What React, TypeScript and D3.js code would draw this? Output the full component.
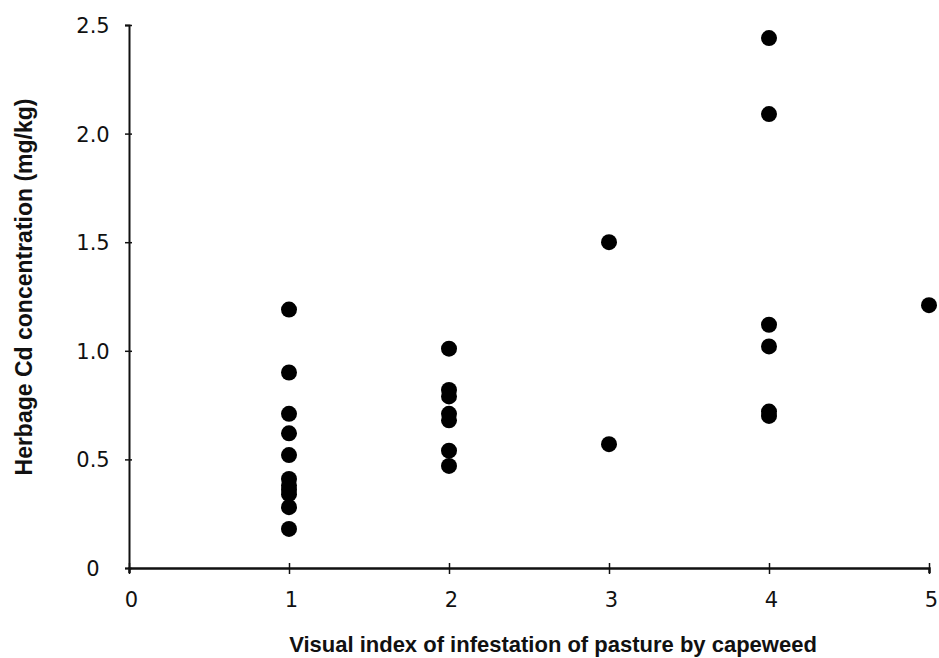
import { useEffect, useRef } from 'react';
import * as d3 from 'd3';

// capeweed infestation index vs herbage Cd
const xIndex = [1, 1, 1, 1, 1, 1, 1, 1, 1, 1, 1, 2, 2, 2, 2, 2, 2, 2, 3, 3, 4, 4, 4, 4, 4, 4, 5];
const cdValues = [
  1.19, 0.9, 0.71, 0.62, 0.52, 0.41, 0.38, 0.36, 0.34, 0.28, 0.18,
  1.01, 0.82, 0.79, 0.71, 0.68, 0.54, 0.47,
  1.5, 0.57,
  2.44, 2.09, 1.12, 1.02, 0.72, 0.7,
  1.21,
];
const xTicks = [0, 1, 2, 3, 4, 5];
const yTicks = [0, 0.5, 1.0, 1.5, 2.0, 2.5];
const yTickLabels = ['0', '0.5', '1.0', '1.5', '2.0', '2.5'];

function App() {
  const svgRef = useRef(null);

  useEffect(() => {
    const W = 939;
    const H = 658;

    const svg = d3.select(svgRef.current);
    svg.selectAll('*').remove();

    const x = d3.scaleLinear().domain([0, 5]).range([129, 929]);
    const y = d3.scaleLinear().domain([0, 2.5]).range([568, 25]);

    const tickFont = '"DejaVu Sans", Verdana, sans-serif';
    const titleFont = 'Arial, "Liberation Sans", Helvetica, sans-serif';

    // Y axis
    const yAxis = svg
      .append('g')
      .attr('transform', `translate(${x(0)},0)`)
      .call(
        d3
          .axisLeft(y)
          .tickValues(yTicks)
          .tickSize(4)
          .tickFormat((d, i) => yTickLabels[i])
      );
    yAxis.select('.domain').attr('stroke', '#111').attr('stroke-width', 2);
    yAxis.selectAll('.tick line').attr('x1', 3).attr('x2', -4).attr('stroke', '#111').attr('stroke-width', 1.5);
    yAxis
      .selectAll('text')
      .attr('x', -36)
      .attr('dy', '0.36em')
      .attr('text-anchor', 'middle')
      .style('font-family', tickFont)
      .style('font-size', '21px')
      .attr('fill', '#111');

    // X axis
    const xAxis = svg
      .append('g')
      .attr('transform', `translate(0,${y(0)})`)
      .call(d3.axisBottom(x).tickValues(xTicks).tickSize(5).tickFormat(d3.format('d')));
    xAxis.select('.domain').attr('stroke', '#111').attr('stroke-width', 2.5);
    xAxis.selectAll('.tick line').attr('y1', -5).attr('y2', 6).attr('stroke', '#111').attr('stroke-width', 1.5);
    xAxis
      .selectAll('text')
      .attr('x', 2)
      .attr('y', 39)
      .attr('dy', 0)
      .style('font-family', tickFont)
      .style('font-size', '21px')
      .attr('fill', '#111');

    // points
    svg
      .append('g')
      .selectAll('circle')
      .data(cdValues)
      .enter()
      .append('circle')
      .attr('cx', (d, i) => x(xIndex[i]))
      .attr('cy', (d) => y(d))
      .attr('r', 8)
      .attr('fill', '#000');

    // axis titles
    svg
      .append('text')
      .attr('x', 553)
      .attr('y', 652)
      .attr('text-anchor', 'middle')
      .style('font-family', titleFont)
      .style('font-size', '22px')
      .style('font-weight', 'bold')
      .attr('fill', '#111')
      .text('Visual index of infestation of pasture by capeweed');

    svg
      .append('text')
      .attr('transform', `translate(32,287) rotate(-90)`)
      .attr('text-anchor', 'middle')
      .style('font-family', titleFont)
      .style('font-size', '23px')
      .style('font-weight', 'bold')
      .attr('fill', '#111')
      .text('Herbage Cd concentration (mg/kg)');

    svg.attr('width', W).attr('height', H);
  }, []);

  return (
    <svg
      ref={svgRef}
      width={939}
      height={658}
      style={{ position: 'absolute', left: 0, top: 0, background: '#fff' }}
    ></svg>
  );
}

export default App;
